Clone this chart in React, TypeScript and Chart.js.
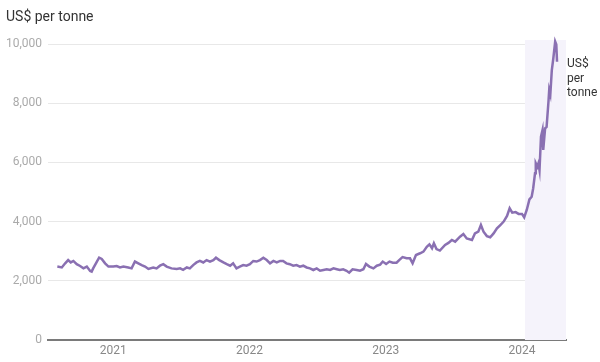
import React, { useEffect, useRef } from "react";
import { Chart, registerables } from "chart.js";

Chart.register(...registerables);

const dates: string[] = [
  "2020-08-04","2020-08-16","2020-08-25","2020-09-02","2020-09-09","2020-09-16","2020-09-25","2020-10-04","2020-10-13","2020-10-22",
  "2020-10-31","2020-11-04","2020-11-08","2020-11-18","2020-11-24","2020-12-01","2020-12-10","2020-12-19","2021-01-01","2021-01-10",
  "2021-01-19","2021-01-28","2021-02-10","2021-02-19","2021-02-28","2021-03-09","2021-03-18","2021-03-27","2021-04-05","2021-04-18",
  "2021-04-27","2021-05-06","2021-05-15","2021-05-24","2021-06-06","2021-06-20","2021-06-29","2021-07-07","2021-07-17","2021-07-25",
  "2021-08-03","2021-08-12","2021-08-21","2021-08-30","2021-09-08","2021-09-17","2021-09-26","2021-10-03","2021-10-12","2021-10-23",
  "2021-11-01","2021-11-10","2021-11-18","2021-11-27","2021-12-06","2021-12-15","2021-12-24","2022-01-02","2022-01-11","2022-01-20",
  "2022-01-29","2022-02-07","2022-02-16","2022-02-25","2022-03-06","2022-03-15","2022-03-24","2022-04-01","2022-04-10","2022-04-19",
  "2022-04-28","2022-05-07","2022-05-16","2022-05-25","2022-06-03","2022-06-12","2022-06-21","2022-06-30","2022-07-09","2022-07-18",
  "2022-07-27","2022-08-05","2022-08-14","2022-08-23","2022-08-31","2022-09-09","2022-09-18","2022-09-25","2022-10-04","2022-10-15",
  "2022-10-24","2022-11-02","2022-11-09","2022-11-18","2022-11-29","2022-12-08","2022-12-17","2022-12-24","2023-01-02","2023-01-11",
  "2023-01-20","2023-01-30","2023-02-06","2023-02-15","2023-02-26","2023-03-07","2023-03-14","2023-03-23","2023-04-03","2023-04-12",
  "2023-04-21","2023-04-28","2023-05-05","2023-05-10","2023-05-17","2023-05-26","2023-06-09","2023-06-18","2023-06-27","2023-07-06",
  "2023-07-19","2023-07-28","2023-08-06","2023-08-20","2023-08-28","2023-09-06","2023-09-13","2023-09-20","2023-09-29","2023-10-08",
  "2023-10-17","2023-10-26","2023-11-04","2023-11-13","2023-11-22","2023-11-29","2023-12-06","2023-12-15","2023-12-23","2024-01-01",
  "2024-01-07","2024-01-14","2024-01-21","2024-01-27","2024-01-31","2024-02-05","2024-02-07","2024-02-11","2024-02-14","2024-02-17",
  "2024-02-21","2024-02-25","2024-02-27","2024-03-03","2024-03-07","2024-03-12","2024-03-14","2024-03-17","2024-03-21","2024-03-25",
  "2024-03-30","2024-04-02","2024-04-04"
];

const prices: number[] = [
  2480,2450,2590,2700,2620,2670,2560,2500,2420,2480,
  2330,2310,2420,2650,2780,2740,2590,2480,2480,2500,
  2450,2480,2450,2420,2650,2590,2530,2480,2400,2450,
  2420,2510,2560,2480,2420,2400,2420,2370,2450,2420,
  2530,2620,2670,2620,2700,2650,2700,2780,2700,2620,
  2560,2510,2590,2420,2480,2530,2510,2560,2670,2650,
  2700,2780,2700,2590,2670,2620,2670,2670,2590,2560,
  2510,2530,2480,2510,2450,2420,2365,2420,2340,2365,
  2390,2365,2420,2390,2365,2390,2340,2275,2390,2365,
  2340,2390,2570,2480,2420,2510,2545,2650,2570,2650,
  2610,2610,2700,2800,2760,2760,2590,2870,2930,2985,
  3150,3230,3100,3265,3070,3020,3210,3280,3380,3320,
  3490,3580,3430,3380,3600,3660,3885,3660,3510,3470,
  3600,3770,3885,4000,4190,4450,4300,4320,4260,4260,
  4140,4400,4750,4840,5120,5630,5970,5860,5970,5740,
  6870,7090,6420,7150,7200,8050,8450,8300,9120,9510,
  10080,9980,9400
];

const yearTicks: string[] = ["2021-01-01", "2022-01-01", "2023-01-01", "2024-01-01"];
const yearLabels: string[] = ["2021", "2022", "2023", "2024"];
const axisStart = "2020-07-10";
const axisEnd = "2024-04-28";
const highlightStart = "2024-01-09";
const yTicks: number[] = [0, 2000, 4000, 6000, 8000, 10000];
const unitTitle = "US$ per tonne";
const endLabel: string[] = ["US$", "per", "tonne"];

const ts = (d: string) => Date.parse(d + "T00:00:00Z");

const FONT = "Roboto, 'Noto Sans', sans-serif";

export default function App() {
  const ref = useRef<HTMLCanvasElement | null>(null);

  useEffect(() => {
    if (!ref.current) return;
    const points = dates.map((d, i) => ({ x: ts(d), y: prices[i] }));

    const bandPlugin = {
      id: "band",
      beforeDatasetsDraw(chart: any) {
        const { ctx, chartArea, scales } = chart;
        const x0 = scales.x.getPixelForValue(ts(highlightStart));
        ctx.save();
        ctx.fillStyle = "#f5f3fb";
        ctx.fillRect(x0, chartArea.top - 4, chartArea.right - x0, chartArea.bottom - chartArea.top + 4);
        ctx.restore();
      },
    };

    const textPlugin = {
      id: "texts",
      afterDraw(chart: any) {
        const { ctx, chartArea } = chart;
        ctx.save();
        ctx.fillStyle = "#333333";
        ctx.textBaseline = "alphabetic";
        ctx.textAlign = "left";
        ctx.font = `14px ${FONT}`;
        ctx.fillText(unitTitle, 6, 21);
        ctx.font = `12px ${FONT}`;
        endLabel.forEach((t, i) => {
          ctx.fillText(t, chartArea.right + 1, 67 + i * 14.5);
        });
        ctx.restore();
      },
    };

    const chart = new Chart(ref.current, {
      type: "line",
      data: {
        datasets: [
          {
            data: points,
            borderColor: "#8a70b2",
            borderWidth: 2.5,
            pointRadius: 0,
            tension: 0,
            clip: false as any,
          },
        ],
      },
      options: {
        animation: false,
        responsive: false,
        maintainAspectRatio: false,
        events: [],
        layout: { padding: { top: 44, right: 34, left: 0, bottom: 0 } },
        plugins: { legend: { display: false }, tooltip: { enabled: false } },
        scales: {
          x: {
            type: "linear",
            min: ts(axisStart),
            max: ts(axisEnd),
            afterBuildTicks: (scale: any) => {
              scale.ticks = yearTicks.map((d) => ({ value: ts(d) }));
            },
            afterFit: (scale: any) => {
              scale.height = 22;
            },
            ticks: {
              autoSkip: false,
              maxRotation: 0,
              padding: 4,
              color: "#888888",
              font: { family: FONT, size: 12 },
              callback: (v: any) => {
                const i = yearTicks.findIndex((d) => ts(d) === v);
                return i >= 0 ? yearLabels[i] : "";
              },
            },
            grid: { display: false, drawTicks: false },
            border: { display: true, color: "#7a7a7a", width: 2 },
          },
          y: {
            min: 0,
            max: 10000,
            afterBuildTicks: (scale: any) => {
              scale.ticks = yTicks.map((v) => ({ value: v }));
            },
            afterFit: (scale: any) => {
              scale.width = 48;
            },
            ticks: {
              padding: 6,
              color: "#aaaaaa",
              font: { family: FONT, size: 12 },
              callback: (v: any) => Number(v).toLocaleString("en-US"),
            },
            grid: { color: "#e8e8e8", lineWidth: 1, drawTicks: false },
            border: { display: false },
          },
        },
      },
      plugins: [bandPlugin, textPlugin],
    });
    return () => chart.destroy();
  }, []);

  return (
    <div style={{ position: "fixed", left: 0, top: 0, width: 600, height: 362, background: "#fff" }}>
      <canvas ref={ref} width={600} height={362} style={{ width: 600, height: 362, display: "block" }} />
    </div>
  );
}
